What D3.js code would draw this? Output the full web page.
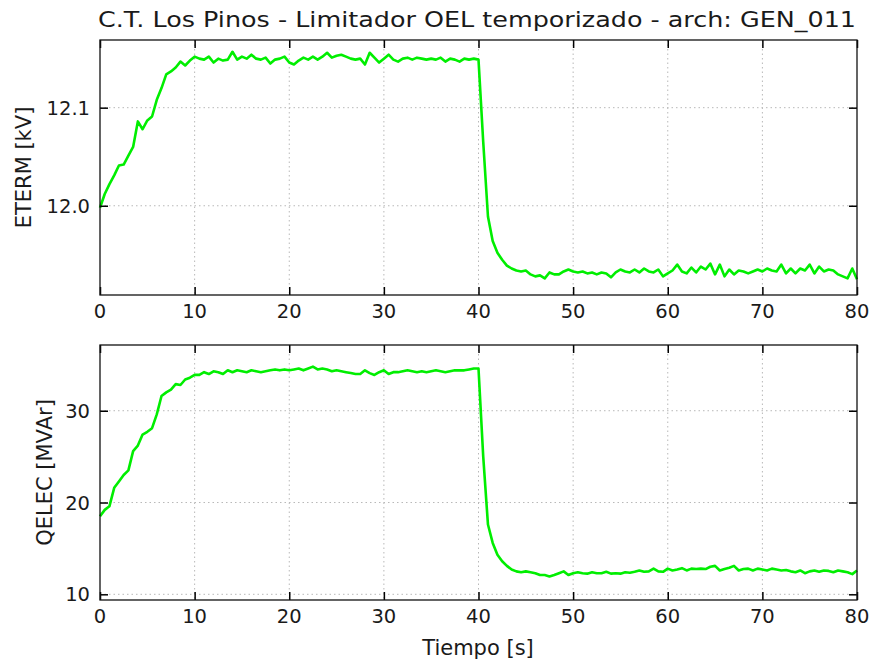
<!DOCTYPE html>
<html>
<head>
<meta charset="utf-8">
<script src="https://cdn.jsdelivr.net/npm/d3@7/dist/d3.min.js"></script>
<style>
  body { margin: 0; background: #ffffff; }
  text { font-family: "DejaVu Sans", sans-serif; fill: #1a1a1a; }
</style>
</head>
<body>
<svg id="chart" width="873" height="661"></svg>
<script>
// Sample times: one reading every 0.5 s from 0 to 80 s
const sampleStep = 0.5;
const sampleEnd = 80;

// Terminal voltage ETERM [kV]
const eterm = [
  11.998, 12.012, 12.022, 12.031, 12.041, 12.042, 12.051, 12.060, 12.086, 12.078,
  12.087, 12.091, 12.108, 12.120, 12.134, 12.137, 12.141, 12.147, 12.143, 12.148,
  12.152,
  12.150, 12.149, 12.152, 12.146, 12.150, 12.148, 12.149, 12.157, 12.149, 12.152,
  12.150, 12.154, 12.150, 12.149, 12.151, 12.145, 12.149, 12.150, 12.152, 12.146,
  12.144, 12.148, 12.151, 12.149, 12.152, 12.149, 12.152, 12.156, 12.151, 12.153,
  12.154, 12.152, 12.150, 12.149, 12.150, 12.144, 12.156, 12.151, 12.146, 12.150,
  12.154, 12.149, 12.147, 12.150, 12.151, 12.149, 12.151, 12.150, 12.149, 12.150,
  12.149, 12.151, 12.147, 12.150, 12.149, 12.147, 12.150, 12.149, 12.150, 12.149,
  12.065, 11.989, 11.964, 11.952, 11.945, 11.939,
  11.936, 11.934, 11.933, 11.934, 11.930, 11.928, 11.929, 11.926, 11.932, 11.930,
  11.930, 11.933, 11.935, 11.933, 11.932, 11.933, 11.931, 11.932, 11.930, 11.932,
  11.931, 11.927, 11.932, 11.935, 11.933, 11.932, 11.935, 11.932, 11.936, 11.933,
  11.932, 11.935, 11.928, 11.931, 11.934, 11.940, 11.933, 11.931, 11.937, 11.932,
  11.938, 11.935, 11.941, 11.930, 11.940, 11.928, 11.935, 11.930, 11.934, 11.933,
  11.931, 11.933, 11.935, 11.933, 11.936, 11.934, 11.933, 11.940, 11.931, 11.936,
  11.931, 11.936, 11.934, 11.940, 11.931, 11.938, 11.933, 11.935, 11.934, 11.930,
  11.928, 11.926, 11.936, 11.925
];

// Reactive power QELEC [MVAr]
const qelec = [
  18.5, 19.2, 19.6, 21.6, 22.3, 23.0, 23.5, 25.6, 26.2, 27.4,
  27.7, 28.1, 29.6, 31.6, 32.0, 32.3, 32.9, 32.8, 33.4, 33.6,
  33.9,
  33.9, 34.2, 34.0, 34.3, 34.2, 34.0, 34.4, 34.2, 34.4, 34.3,
  34.2, 34.4, 34.3, 34.2, 34.3, 34.4, 34.5, 34.4, 34.5, 34.4,
  34.5, 34.6, 34.4, 34.6, 34.8, 34.5, 34.6, 34.5, 34.3, 34.4,
  34.3, 34.2, 34.1, 34.0, 34.0, 34.4, 34.1, 33.9, 34.2, 34.4,
  34.0, 34.2, 34.2, 34.3, 34.4, 34.3, 34.2, 34.3, 34.2, 34.3,
  34.4, 34.3, 34.2, 34.3, 34.4, 34.4, 34.4, 34.5, 34.6, 34.6,
  25.0, 17.6, 15.6, 14.3, 13.6, 13.1,
  12.7, 12.5, 12.4, 12.5, 12.4, 12.3, 12.1, 12.1, 11.95, 12.1,
  12.3, 12.5, 12.1, 12.3, 12.4, 12.3, 12.25, 12.4, 12.3, 12.3,
  12.45, 12.25, 12.3, 12.25, 12.4, 12.35, 12.45, 12.6, 12.45, 12.5,
  12.8, 12.5, 12.45, 12.8, 12.6, 12.7, 12.85, 12.6, 12.8, 12.75,
  12.8, 12.75, 13.0, 13.1, 12.6, 12.75, 12.9, 13.1, 12.6, 12.75,
  12.8, 12.6, 12.8, 12.7, 12.6, 12.8, 12.7, 12.6, 12.65, 12.5,
  12.4, 12.6, 12.3, 12.5, 12.6, 12.45, 12.6, 12.55, 12.4, 12.6,
  12.5, 12.4, 12.2, 12.6
];

const timeTicks = [0, 10, 20, 30, 40, 50, 60, 70, 80];
const etermTicks = [12.0, 12.1];
const qelecTicks = [10, 20, 30];

const titleText = "C.T. Los Pinos - Limitador OEL temporizado - arch: GEN_011";
const xLabel = "Tiempo [s]";
const etermLabel = "ETERM [kV]";
const qelecLabel = "QELEC [MVAr]";

const times = d3.range(0, sampleEnd + sampleStep / 2, sampleStep);

const svg = d3.select("#chart");
const left = 100, right = 857;
const x = d3.scaleLinear().domain([0, 80]).range([left, right]);

const panels = [
  { values: eterm, ticks: etermTicks, fmt: d3.format(".1f"), domain: [11.909, 12.169],
    top: 40, bottom: 295, label: etermLabel, labelX: 23 },
  { values: qelec, ticks: qelecTicks, fmt: d3.format("d"), domain: [9.38, 37.16],
    top: 345, bottom: 600, label: qelecLabel, labelX: 44 }
];

const tickLen = 8;
const tickFont = 19.5;
const labelFont = 21;

panels.forEach(p => {
  const y = d3.scaleLinear().domain(p.domain).range([p.bottom, p.top]);
  const g = svg.append("g");

  // dotted grid
  g.append("g").selectAll("line")
    .data(timeTicks.filter(t => t > 0 && t < 80)).join("line")
    .attr("x1", d => x(d)).attr("x2", d => x(d))
    .attr("y1", p.top).attr("y2", p.bottom)
    .attr("stroke", "#b8b8b8").attr("stroke-width", 1).attr("stroke-dasharray", "1.5,3");
  g.append("g").selectAll("line")
    .data(p.ticks).join("line")
    .attr("x1", left).attr("x2", right)
    .attr("y1", d => y(d)).attr("y2", d => y(d))
    .attr("stroke", "#b8b8b8").attr("stroke-width", 1).attr("stroke-dasharray", "1.5,3");

  // series
  const line = d3.line().x((d, i) => x(times[i])).y(d => y(d));
  g.append("path").datum(p.values)
    .attr("d", line)
    .attr("fill", "none").attr("stroke", "#00ee00")
    .attr("stroke-width", 2.6).attr("stroke-linejoin", "round");

  // inward ticks on all four sides
  const axB = d3.axisTop(x).tickValues(timeTicks).tickSize(tickLen).tickFormat("");
  const axT = d3.axisBottom(x).tickValues(timeTicks).tickSize(tickLen).tickFormat("");
  const axL = d3.axisRight(y).tickValues(p.ticks).tickSize(tickLen).tickFormat("");
  const axR = d3.axisLeft(y).tickValues(p.ticks).tickSize(tickLen).tickFormat("");
  [[axB, `translate(0,${p.bottom})`], [axT, `translate(0,${p.top})`],
   [axL, `translate(${left},0)`], [axR, `translate(${right},0)`]].forEach(([ax, tr]) => {
    const a = g.append("g").attr("transform", tr).call(ax);
    a.select(".domain").remove();
    a.selectAll("line").attr("stroke", "#000").attr("stroke-width", 1.5);
  });

  // frame
  g.append("rect").attr("x", left).attr("y", p.top)
    .attr("width", right - left).attr("height", p.bottom - p.top)
    .attr("fill", "none").attr("stroke", "#111").attr("stroke-width", 1.3);

  // tick labels
  g.append("g").selectAll("text").data(timeTicks).join("text")
    .attr("x", d => x(d)).attr("y", p.bottom + 23)
    .attr("text-anchor", "middle").attr("font-size", tickFont)
    .text(d => d);
  g.append("g").selectAll("text").data(p.ticks).join("text")
    .attr("x", left - 10).attr("y", d => y(d)).attr("dy", "0.36em")
    .attr("text-anchor", "end").attr("font-size", tickFont)
    .text(p.fmt);

  // y label
  g.append("text")
    .attr("transform", `translate(${p.labelX},${(p.top + p.bottom) / 2}) rotate(-90)`)
    .attr("text-anchor", "middle").attr("dy", "0.36em").attr("font-size", labelFont)
    .text(p.label);
});

svg.append("text").attr("x", 478).attr("y", 655)
  .attr("text-anchor", "middle").attr("font-size", labelFont).text(xLabel);

svg.append("text").attr("x", 477).attr("y", 27)
  .attr("text-anchor", "middle").attr("font-size", 22)
  .attr("textLength", 758).attr("lengthAdjust", "spacingAndGlyphs")
  .text(titleText);
</script>
</body>
</html>
